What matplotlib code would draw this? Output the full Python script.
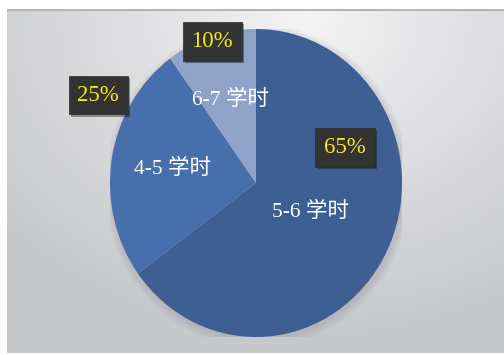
import numpy as np
import matplotlib.pyplot as plt
import matplotlib.patheffects as pe
from matplotlib.patches import Ellipse

plt.rcParams['font.serif'] = ['Liberation Serif', 'DejaVu Serif']
plt.rcParams['font.family'] = ['serif', 'Noto Sans CJK SC']

# class hours distribution
categories = ['5-6 学时', '4-5 学时', '6-7 学时']
shares = [65, 25, 10]
pct_labels = ['65%', '25%', '10%']

colors = ['#3e5f93', '#466fab', '#8fa2c7']
# radius for names inside slices, box centres for percents
name_radius = [0.42, 0.58, 0.57]
pct_pos = [(0.61, 0.23), (-1.08, 0.57), (-0.30, 0.92)]

W, H = 504, 355
fig = plt.figure(figsize=(W / 100, H / 100), dpi=100)

# grey panel with soft radial light near the top
bg = fig.add_axes([7 / W, 2 / H, 497 / W, 344 / H])
yy, xx = np.mgrid[0:344, 0:497]
d = np.sqrt(((xx - 300) / 400.0) ** 2 + ((yy - 10) / 320.0) ** 2)
d = np.clip(d, 0, 1) ** 0.9
light = np.array([0.96, 0.96, 0.965])
dark = np.array([0.78, 0.785, 0.795])
img = light[None, None, :] * (1 - d[..., None]) + dark[None, None, :] * d[..., None]
bg.imshow(img, aspect='auto', extent=[0, 497, 344, 0])
bg.axhline(1, color='#b4b4b4', lw=1.5)
bg.set_axis_off()

# pie axes, slightly taller than wide
cx, cy, rx, ry = 256, 183, 146, 154
ax = fig.add_axes([(cx - rx) / W, (H - cy - ry) / H, 2 * rx / W, 2 * ry / H])
# faint halo under the pie
for k in range(6):
    ax.add_patch(Ellipse((0.01, -0.02), 2.0 + 0.02 * k, 2.0 + 0.02 * k,
                         fc='#808590', ec='none', alpha=0.05, zorder=0))
wedges, _ = ax.pie(shares, colors=colors, startangle=90, counterclock=False,
                   radius=1.0, wedgeprops=dict(linewidth=0, zorder=1))
ax.set_aspect('auto')
ax.set_xlim(-1, 1)
ax.set_ylim(-1, 1)
ax.set_axis_off()

for w, name, r in zip(wedges, categories, name_radius):
    mid = np.deg2rad((w.theta1 + w.theta2) / 2)
    ax.text(r * np.cos(mid), r * np.sin(mid), name, ha='center', va='center',
            color='white', fontsize=15.5)

for (px, py), lab in zip(pct_pos, pct_labels):
    t = ax.text(px, py, lab, ha='center', va='center', color='#f5e81c',
                fontsize=16.5, clip_on=False,
                bbox=dict(boxstyle='square,pad=0.38', fc='#333333', ec='#2a2a2a', lw=0.5))
    t.get_bbox_patch().set_path_effects([
        pe.SimplePatchShadow(offset=(1.5, -1.5), alpha=0.4), pe.Normal()])

fig.savefig('out.png', dpi=100)
